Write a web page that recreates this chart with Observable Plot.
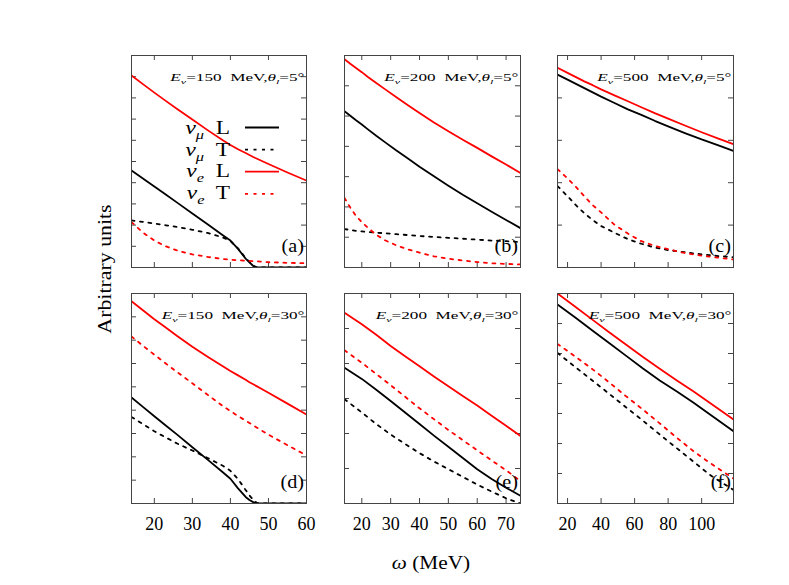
<!DOCTYPE html>
<html><head><meta charset="utf-8">
<script src="https://cdn.jsdelivr.net/npm/d3@7"></script>
<script src="https://cdn.jsdelivr.net/npm/@observablehq/plot@0.6"></script>
<style>
body{margin:0;background:#fff;}
#fig{position:relative;width:789px;height:585px;font-family:"Liberation Serif","DejaVu Serif",serif;color:#000;overflow:hidden;}
#fig svg{position:absolute;overflow:visible;}
.lab{position:absolute;white-space:nowrap;font-size:19px;line-height:1;}
</style></head><body><div id="fig"></div>
<script>
// ---------- data (arbitrary units, in tick intervals) ----------
// Panel (a) Eν=150 MeV, θl=5°
const omegaA = [14,17,20,23,26,30,34,38,40,42,44,46,47,50,55,60];
const muLA = [4.58,4.2,3.82,3.44,3.06,2.55,2.04,1.52,1.27,0.88,0.42,0.07,0,0,0,0];
const muTA = [2.22,2.15,2.07,1.99,1.91,1.78,1.63,1.42,1.25,0.9,0.45,0.08,0,0,0,0];
const eLA  = [9.06,8.65,8.25,7.86,7.48,6.98,6.48,6.0,5.78,5.58,5.4,5.21,5.13,4.88,4.48,4.1];
const eTA  = [2.14,1.65,1.27,1.0,0.8,0.62,0.5,0.4,0.37,0.34,0.32,0.3,0.29,0.25,0.22,0.2];
// Panel (b) Eν=200 MeV, θl=5°
const omegaB = [14,16,18,20,22,25,28,32,36,40,45,50,55,60,65,70,75];
const muLB = [5.16,5.01,4.86,4.72,4.57,4.35,4.14,3.86,3.6,3.33,3.01,2.7,2.4,2.12,1.84,1.57,1.3];
const muTB = [1.27,1.24,1.21,1.19,1.17,1.15,1.13,1.1,1.07,1.04,1.01,0.98,0.95,0.92,0.89,0.87,0.84];
const eLB  = [6.88,6.73,6.59,6.45,6.3,6.09,5.89,5.62,5.36,5.1,4.79,4.5,4.22,3.95,3.67,3.4,3.12];
const eTB  = [2.3,1.98,1.7,1.5,1.32,1.08,0.9,0.73,0.6,0.49,0.37,0.29,0.23,0.18,0.14,0.12,0.1];
// Panel (c) Eν=500 MeV, θl=5°
const omegaC = [14,20,25,30,35,40,48,56,64,72,80,90,100,110,119];
const muLC = [4.55,4.43,4.33,4.23,4.13,4.03,3.88,3.73,3.6,3.46,3.33,3.17,3.02,2.88,2.75];
const muTC = [1.92,1.68,1.47,1.28,1.12,0.98,0.82,0.67,0.56,0.47,0.41,0.36,0.31,0.27,0.24];
const eLC  = [4.71,4.59,4.49,4.39,4.3,4.2,4.06,3.92,3.78,3.64,3.51,3.35,3.19,3.04,2.91];
const eTC  = [2.32,2.1,1.9,1.68,1.47,1.3,1.01,0.8,0.62,0.51,0.43,0.34,0.28,0.23,0.19];
// Panel (d) Eν=150 MeV, θl=30°
const omegaD = [14,17,20,23,26,30,34,38,40,42,44,45,46,47,48,50,55,60];
const muLD = [4.54,4.14,3.74,3.34,2.95,2.41,1.88,1.34,1.06,0.65,0.28,0.15,0.06,0,0,0,0,0];
const muTD = [3.71,3.4,3.1,2.83,2.57,2.27,1.95,1.62,1.4,1.05,0.58,0.35,0.15,0.02,0,0,0,0];
const eLD  = [8.67,8.28,7.9,7.54,7.18,6.72,6.29,5.88,5.68,5.49,5.3,5.2,5.11,5.02,4.93,4.75,4.28,3.81];
const eTD  = [7.16,6.76,6.38,6.0,5.63,5.15,4.66,4.18,3.96,3.75,3.55,3.45,3.35,3.25,3.15,2.95,2.5,2.06];
// Panel (e) Eν=200 MeV, θl=30°
const omegaE = [14,20,25,30,35,40,45,50,55,60,65,70,75];
const muLE = [3.88,3.56,3.25,2.93,2.6,2.27,1.94,1.62,1.3,0.98,0.7,0.45,0.22];
const muTE = [2.98,2.6,2.27,1.97,1.7,1.44,1.2,0.98,0.76,0.54,0.34,0.15,0.0];
const eLE  = [5.45,5.12,4.82,4.5,4.21,3.92,3.63,3.35,3.07,2.8,2.51,2.22,1.93];
const eTE  = [4.38,4.02,3.7,3.38,3.05,2.72,2.41,2.1,1.81,1.52,1.23,0.95,0.64];
// Panel (f) Eν=500 MeV, θl=30°
const omegaF = [14,25,35,45,55,65,75,85,95,105,119];
const muLF = [6.63,6.18,5.76,5.34,4.92,4.5,4.1,3.74,3.37,2.97,2.41];
const muTF = [5.02,4.53,4.09,3.65,3.2,2.76,2.3,1.85,1.4,0.95,0.45];
const eLF  = [7.0,6.54,6.12,5.7,5.29,4.88,4.49,4.11,3.74,3.35,2.8];
const eTF  = [5.32,4.88,4.47,4.03,3.57,3.13,2.67,2.2,1.75,1.35,0.83];

// axis ticks / domains
const xTicks150 = [20,30,40,50,60];
const xTicks200 = [20,30,40,50,60,70];
const xTicks500 = [20,40,60,80,100];
const xDomain150 = [14,60], xDomain200 = [14,75], xDomain500 = [14,119];
const yMaxes = {a:10, b:7, c:5, d:9, e:6, f:7};

// labels
const panelIds = ["a","b","c","d","e","f"];
const annotations = [
  "~E|_~ν|=150  MeV,|~θ|_~l|=5°",
  "~E|_~ν|=200  MeV,|~θ|_~l|=5°",
  "~E|_~ν|=500  MeV,|~θ|_~l|=5°",
  "~E|_~ν|=150  MeV,|~θ|_~l|=30°",
  "~E|_~ν|=200  MeV,|~θ|_~l|=30°",
  "~E|_~ν|=500  MeV,|~θ|_~l|=30°"
];
const seriesKeys = ["muL","muT","eL","eT"];
const legendLabels = ["~ν|_~μ|  L","~ν|_~μ|  T","~ν|_~e|  L","~ν|_~e|  T"];
const seriesColor = {muL:"#000", muT:"#000", eL:"#ff0000", eT:"#ff0000"};
const seriesDash  = {muL:null, muT:"3,5.5", eL:null, eT:"3,5.5"};
const xLabel = "ω (MeV)";
const yLabel = "Arbitrary units";

// ---------- assemble ----------
const raw = {
  a:{omega:omegaA, muL:muLA, muT:muTA, eL:eLA, eT:eTA, xd:xDomain150, xt:xTicks150},
  b:{omega:omegaB, muL:muLB, muT:muTB, eL:eLB, eT:eTB, xd:xDomain200, xt:xTicks200},
  c:{omega:omegaC, muL:muLC, muT:muTC, eL:eLC, eT:eTC, xd:xDomain500, xt:xTicks500},
  d:{omega:omegaD, muL:muLD, muT:muTD, eL:eLD, eT:eTD, xd:xDomain150, xt:xTicks150},
  e:{omega:omegaE, muL:muLE, muT:muTE, eL:eLE, eT:eTE, xd:xDomain200, xt:xTicks200},
  f:{omega:omegaF, muL:muLF, muT:muTF, eL:eLF, eT:eTF, xd:xDomain500, xt:xTicks500}
};

// layout
const colLeft = [131, 344, 557], colW = [175, 176, 176];
const rowTop = [55, 293], rowH = [212, 210];
const FONT = "'Liberation Serif','DejaVu Serif',serif";

function rich(parent, str, fs) {
  const t = parent.append("text").attr("font-size", fs).style("white-space","pre");
  let sub = false;
  for (let tok of str.split("|")) {
    const s = tok.startsWith("_"); if (s) tok = tok.slice(1);
    const it = tok.startsWith("~"); if (it) tok = tok.slice(1);
    const ts = t.append("tspan").text(tok);
    if (it) ts.attr("font-style","italic");
    if (s) ts.attr("font-size", fs*0.7);
    const sh = fs*0.3;
    if (s && !sub) ts.attr("dy", sh); else if (!s && sub) ts.attr("dy", -sh);
    sub = s;
  }
  return t;
}

function overlay(id, idx) {
  return (index, scales, values, dim) => {
    const g = d3.create("svg:g").style("font-family", FONT).attr("fill","#000");
    const L = dim.marginLeft, T = dim.marginTop;
    const R = dim.width - dim.marginRight, B = dim.height - dim.marginBottom;
    const a = g.append("g").attr("transform", `translate(${R-1.5},${T+25.5}) scale(1.72,1)`);
    rich(a, annotations[idx], 10).attr("text-anchor","end");
    g.append("g").attr("transform", `translate(${R-2},${B-15}) scale(1.12,1)`)
      .append("text").attr("text-anchor","end").attr("font-size", 18).text(`(${id})`);
    if (id === "a") {
      seriesKeys.forEach((k, i) => {
        const lg = g.append("g").attr("transform", `translate(${L+99},${T+79+i*21.5}) scale(1.3,1)`);
        rich(lg, legendLabels[i], 18).attr("text-anchor","end");
        g.append("line").attr("x1", L+114).attr("x2", L+148)
          .attr("y1", T+72.5+i*22.1).attr("y2", T+72.5+i*22.1)
          .attr("stroke", seriesColor[k]).attr("stroke-width", 1.8)
          .attr("stroke-dasharray", seriesDash[k]);
      });
    }
    return g.node();
  };
}

const fig = document.getElementById("fig");
panelIds.forEach((id, idx) => {
  const p = raw[id];
  const col = idx % 3, row = Math.floor(idx / 3);
  const fw = colW[col], fh = rowH[row];
  const ML = 8, MR = 8, MT = 8, MB = row === 1 ? 45 : 8;
  const rows = p.omega.map((w, i) => ({omega: w, muL: p.muL[i], muT: p.muT[i], eL: p.eL[i], eT: p.eT[i]}));
  const yMax = yMaxes[id];
  const yt = d3.range(1, yMax);
  const marks = [
    Plot.tickX(p.xt, {x: d => d, insetTop: fh - 5, stroke: "#444"}),
    Plot.tickX(p.xt, {x: d => d, insetBottom: fh - 5, stroke: "#444"}),
    Plot.tickY(yt, {y: d => d, insetRight: fw - 5, stroke: "#444"}),
    Plot.tickY(yt, {y: d => d, insetLeft: fw - 5, stroke: "#444"}),
    ...seriesKeys.map(k => Plot.line(rows, {x: "omega", y: k, stroke: seriesColor[k],
      strokeWidth: 1.8, strokeDasharray: seriesDash[k] || undefined, clip: true})),
    Plot.frame({stroke: "#444", strokeWidth: 1}),
    overlay(id, idx)
  ];
  const chart = Plot.plot({
    width: fw + ML + MR, height: fh + MT + MB,
    marginLeft: ML, marginRight: MR, marginTop: MT, marginBottom: MB,
    style: {fontFamily: FONT, fontSize: "18px", background: "transparent", overflow: "visible", color: "#000"},
    x: {domain: p.xd, axis: row === 1 ? "bottom" : null, ticks: p.xt, tickSize: 0, tickPadding: 14,
        tickFormat: d => String(d), label: null},
    y: {domain: [0, yMax], axis: null},
    marks
  });
  chart.style.left = (colLeft[col] - ML) + "px";
  chart.style.top = (rowTop[row] - MT) + "px";
  fig.appendChild(chart);
});

const yl = document.createElement("div");
yl.className = "lab";
yl.textContent = yLabel;
yl.style.left = "104px"; yl.style.top = "269px";
yl.style.transform = "translate(-50%,-50%) rotate(-90deg) scale(1.15,1)";
fig.appendChild(yl);

const xl = document.createElement("div");
xl.className = "lab";
xl.innerHTML = "<i>ω</i> (MeV)";
xl.style.left = "431px"; xl.style.top = "562px";
xl.style.transform = "translate(-50%,-50%) scale(1.12,1)";
fig.appendChild(xl);
</script></body></html>
